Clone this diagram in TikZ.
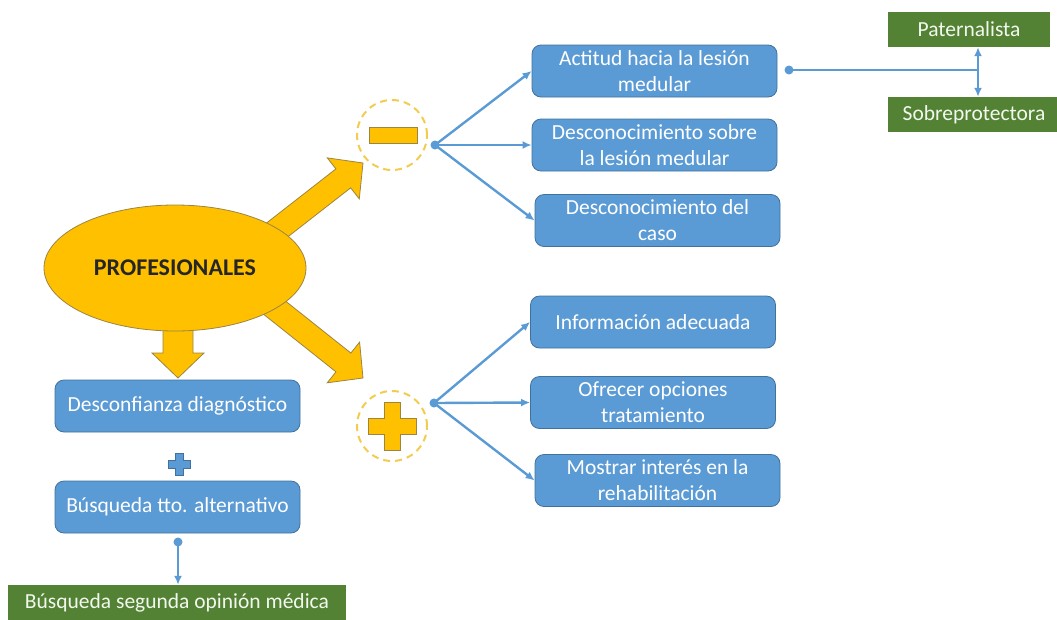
\documentclass[tikz,border=0pt]{standalone}
\usepackage{fontspec}
\setmainfont{Carlito}
\usepackage{tikz}
\usetikzlibrary{positioning,arrows.meta,shapes.geometric,calc}
\definecolor{boxblue}{HTML}{5B9BD5}
\definecolor{boxedge}{HTML}{41719C}
\definecolor{gold}{HTML}{FFC000}
\definecolor{goldedge}{HTML}{9C8443}
\definecolor{ringgold}{HTML}{F2CC4F}
\definecolor{leaf}{HTML}{548235}
\definecolor{leaftext}{HTML}{F2F8EE}
% fat block arrow: tail, tip, half shaft width
\newcommand{\fatarrow}[3]{%
  \coordinate (hb) at ($(#2)!25pt!(#1)$);
  \filldraw[fat] ($(#1)!#3!90:(#2)$) -- ($(hb)!#3!90:(#2)$) -- ($(hb)!26pt!90:(#2)$) -- (#2)
    -- ($(hb)!26pt!-90:(#2)$) -- ($(hb)!#3!-90:(#2)$) -- ($(#1)!#3!-90:(#2)$) -- cycle;}
% plus sign: style, centre, half length, half thickness
\newcommand{\plusmark}[4]{%
  \filldraw[#1,shift={(#2)}] (-#4,-#3) -- (#4,-#3) -- (#4,-#4) -- (#3,-#4) -- (#3,#4) -- (#4,#4)
    -- (#4,#3) -- (-#4,#3) -- (-#4,#4) -- (-#3,#4) -- (-#3,-#4) -- (-#4,-#4) -- cycle;}

\begin{document}
\begin{tikzpicture}[x=1pt, y=-1pt,
  every node/.style={font=\fontsize{21.5}{26}\selectfont},
  rbox/.style={draw=boxedge,line width=0.8pt,fill=boxblue,rounded corners=9pt,text=white,
    minimum width=245pt,minimum height=52pt,align=center,inner sep=2pt},
  gbox/.style={fill=leaf,text=leaftext,minimum height=35pt,inner sep=2pt},
  fat/.style={fill=gold,draw=goldedge,line width=0.8pt},
  ring/.style={circle,draw=ringgold,line width=2pt,dash pattern=on 7pt off 5pt,minimum size=70pt},
  link/.style={draw=boxblue,line width=2.4pt,-{Latex[length=9pt,width=8pt]}}]
  \useasboundingbox (0,0) rectangle (1057,619);

  % block arrows out of the ellipse
  \fatarrow{245,255}{363,163}{12pt}
  \fatarrow{246,285}{363,378}{12pt}
  \fatarrow{178,300}{178,378}{15pt}
  \node[ellipse,fill=gold,draw=goldedge,line width=0.8pt,minimum width=262pt,minimum height=126pt,
    font=\fontsize{24}{28}\selectfont\bfseries,text=black!85] (prof) at (175,268) {PROFESIONALES};

  % minus / plus rings
  \node[ring] (minus) at (392,135) {};
  \fill[fat] (369,127) rectangle (417,143);
  \node[ring] (plus) at (392,426) {};
  \plusmark{fat}{plus.center}{24}{8}

  % negative side
  \node[rbox] (act) at (654.5,71) {Actitud hacia la lesión\\medular};
  \node[rbox] (desles) at (654.5,145) {Desconocimiento sobre\\la lesión medular};
  \node[rbox] (descaso) at (657.5,220.5) {Desconocimiento del\\caso};
  \coordinate (mdot) at (435,145);
  \fill[boxblue] (mdot) circle (4.5pt);
  \draw[link] (mdot) -- (act.west);
  \draw[link] (mdot) -- (desles.west);
  \draw[link] (mdot) -- (descaso.west);

  \node[gbox,minimum width=162pt] (pat) at (969,29.5) {Paternalista};
  \node[gbox,minimum width=172pt] (sobre) at (974,114.5) {Sobreprotectora};
  \coordinate (rdot) at (789,70);
  \coordinate (split) at (978,70);
  \fill[boxblue] (rdot) circle (4.5pt);
  \draw[draw=boxblue,line width=2.4pt] (rdot) -- (split);
  \draw[link] (split) -- (split |- pat.south);
  \draw[link] (split) -- (split |- sobre.north);

  % positive side
  \node[rbox] (info) at (653,322) {Información adecuada};
  \node[rbox] (ofre) at (653,402.5) {Ofrecer opciones\\tratamiento};
  \node[rbox] (most) at (657.5,480.5) {Mostrar interés en la\\rehabilitación};
  \coordinate (pdot) at (434,403);
  \fill[boxblue] (pdot) circle (4.5pt);
  \draw[link] (pdot) -- (info.west);
  \draw[link] (pdot) -- (ofre.west);
  \draw[link] (pdot) -- (most.west);

  % left column
  \node[rbox] (desconf) at (177.5,406) {Desconfianza diagnóstico};
  \coordinate (smallplus) at (179,464);
  \plusmark{fill=boxblue,draw=boxedge,line width=0.6pt}{smallplus}{11}{4}
  \node[rbox] (busq) at (177.5,507) {Búsqueda tto. alternativo};
  \node[gbox,minimum width=338pt,minimum height=36pt] (opin) at (177,603) {Búsqueda segunda opinión médica};
  \coordinate (bdot) at (178,542);
  \fill[boxblue] (bdot) circle (4.5pt);
  \draw[link] (bdot) -- (bdot |- opin.north);
\end{tikzpicture}
\end{document}
